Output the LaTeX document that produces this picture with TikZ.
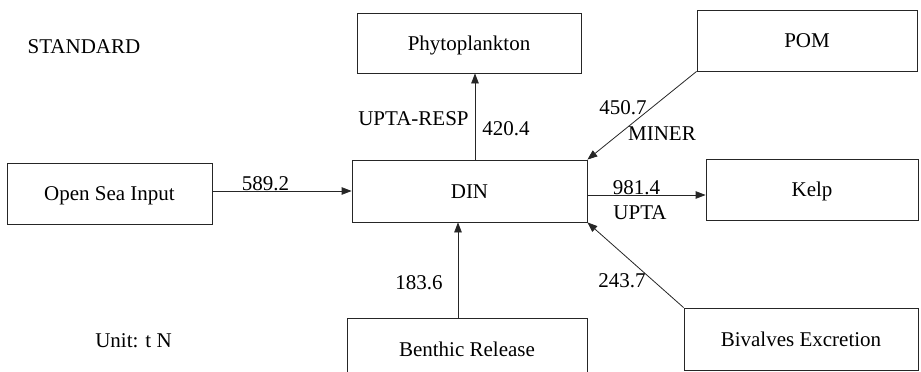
\documentclass[tikz,border=0pt]{standalone}
\usepackage{fontspec}
\setmainfont{Liberation Serif}[Extension=.ttf, UprightFont=LiberationSerif-Regular]
\usetikzlibrary{arrows.meta,calc}
\begin{document}
\begin{tikzpicture}[x=1pt,y=-1pt,
  box/.style={draw=black!85, line width=0.8pt, inner sep=0pt,
    text height=14pt, text depth=0pt, font=\rmfamily\fontsize{21}{25}\selectfont},
  lbl/.style={anchor=base, inner sep=0pt, font=\rmfamily\fontsize{21}{25}\selectfont},
  arr/.style={draw=black!85, line width=0.8pt, -{Triangle[length=10pt,width=7.5pt]}}]
\useasboundingbox (0,0) rectangle (921,372);
\clip (0,0) rectangle (921,372);

% boxes
\node[box, minimum width=224pt, minimum height=60pt] (phyto) at (469,43) {Phytoplankton};
\node[box, minimum width=220pt, minimum height=61pt] (pom) at (807,40.5) {POM};
\node[box, minimum width=205pt, minimum height=61pt] (opensea) at (109.5,193.5) {Open Sea Input};
\node[box, minimum width=235pt, minimum height=62pt] (din) at (469.5,191) {DIN};
\node[box, minimum width=212pt, minimum height=61pt] (kelp) at (812,189.5) {Kelp};
\node[box, minimum width=240pt, minimum height=62pt] (benthic) at (467,349) {Benthic Release};
\node[box, minimum width=234pt, minimum height=62pt] (bivalves) at (801,339) {Bivalves Excretion};

% free texts
\node[lbl] (std) at (84,53) {STANDARD};
\node[lbl] (unit) at (133.5,347) {Unit: t N};

% connectors
\draw[arr] (opensea.east |- din.west) -- (din.west);
\draw[arr] ([yshift=-4pt]din.east) -- ([yshift=-4pt]din.east -| kelp.west);
\draw[arr] ([xshift=5.5pt]din.north) -- ([xshift=5.5pt]din.north |- phyto.south);
\draw[arr] ([xshift=-9pt]benthic.north) -- ([xshift=-9pt]benthic.north |- din.south);
\draw[arr] (pom.south west) -- (din.north east);
\draw[arr] (bivalves.north west) -- (din.south east);

% connector labels
\node[lbl] (l589) at (265.5,190) {589.2};
\node[lbl] (lupr) at (413.5,125) {UPTA-RESP};
\node[lbl] (l420) at (506,135) {420.4};
\node[lbl] (l450) at (623,114) {450.7};
\node[lbl] (lminer) at (662,140) {MINER};
\node[lbl] (l981) at (636.5,194) {981.4};
\node[lbl] (lupta) at (640,219) {UPTA};
\node[lbl] (l183) at (419,289) {183.6};
\node[lbl] (l243) at (622,287) {243.7};
\end{tikzpicture}
\end{document}
